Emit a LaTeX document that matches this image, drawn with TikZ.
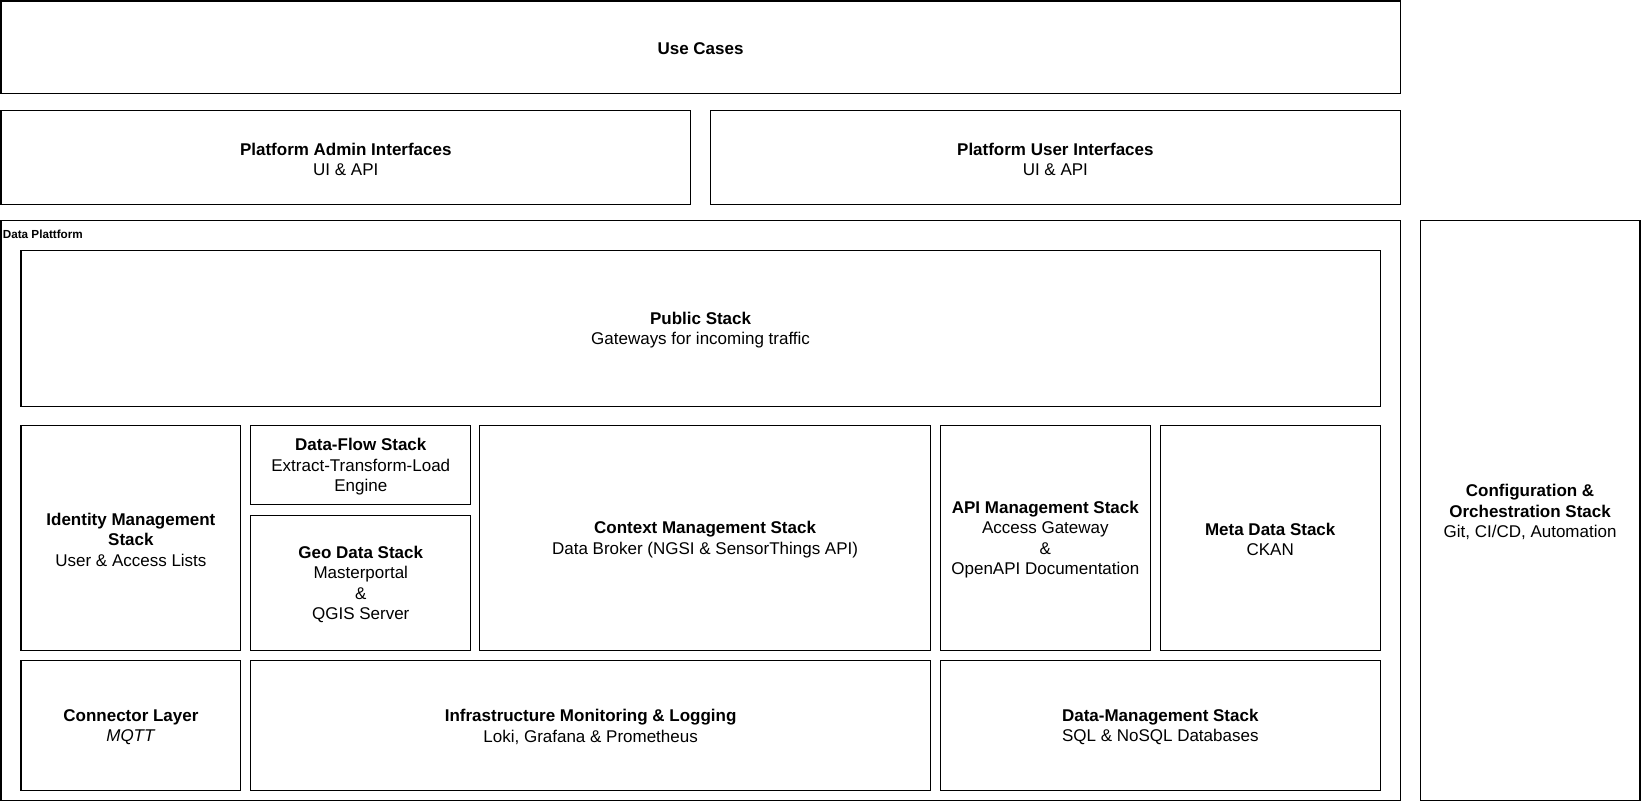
\documentclass[tikz,border=0pt]{standalone}
\usepackage{fontspec}
\setmainfont{Liberation Sans}
\usetikzlibrary{fit}
\tikzset{
  box/.style={draw=black, line width=0.55pt, inner sep=0pt},
  boxtext/.style={inner sep=0pt, align=center,
    font=\fontsize{8.5}{10.2}\selectfont},
  grouplabel/.style={inner sep=0pt, anchor=base west,
    font=\bfseries\fontsize{5.85}{7}\selectfont}
}
\newcommand\stackbox[6]{%
  \node[box, fit={(#2,#3) (#4,#5)}] (#1) {};
  \node[boxtext] (#1-text) at ([yshift=-0.7pt]#1.center) {#6};}
\begin{document}
\begin{tikzpicture}[x=0.5pt, y=-0.5pt]
\useasboundingbox (-1,-1) rectangle (1641,801);
\stackbox{usecases}{0}{0}{1400}{93}{\textbf{Use Cases}}
\stackbox{admin}{0}{110}{690}{204}{\textbf{Platform Admin Interfaces}\\UI \& API}
\stackbox{user}{710}{110}{1400}{204}{\textbf{Platform User Interfaces}\\UI \& API}
\node[box, fit={(0,220) (1400,800)}] (dataplatform) {};
\node[grouplabel] (dplabel) at (1.5,238) {Data Plattform};
\stackbox{config}{1420}{220}{1640}{800}{\textbf{Configuration \&}\\\textbf{Orchestration Stack}\\Git, CI/CD, Automation}
\stackbox{public}{20}{250}{1380}{406}{\textbf{Public Stack}\\Gateways for incoming traffic}
\stackbox{identity}{20}{425}{240}{650}{\textbf{Identity Management}\\\textbf{Stack}\\User \& Access Lists}
\stackbox{dataflow}{250}{425}{470}{504}{\textbf{Data-Flow Stack}\\Extract-Transform-Load\\Engine}
\stackbox{geo}{250}{515}{470}{650}{\textbf{Geo Data Stack}\\Masterportal\\\&\\QGIS Server}
\stackbox{context}{479}{425}{930}{650}{\textbf{Context Management Stack}\\Data Broker (NGSI \& SensorThings API)}
\stackbox{api}{940}{425}{1150}{650}{\textbf{API Management Stack}\\Access Gateway\\\&\\OpenAPI Documentation}
\stackbox{meta}{1160}{425}{1380}{650}{\textbf{Meta Data Stack}\\CKAN}
\stackbox{connector}{20}{660}{240}{790}{\textbf{Connector Layer}\\\textit{MQTT}}
\stackbox{infra}{250}{660}{930}{790}{\textbf{Infrastructure Monitoring \& Logging}\\Loki, Grafana \& Prometheus}
\stackbox{datamgmt}{940}{660}{1380}{790}{\textbf{Data-Management Stack}\\SQL \& NoSQL Databases}
\end{tikzpicture}
\end{document}
